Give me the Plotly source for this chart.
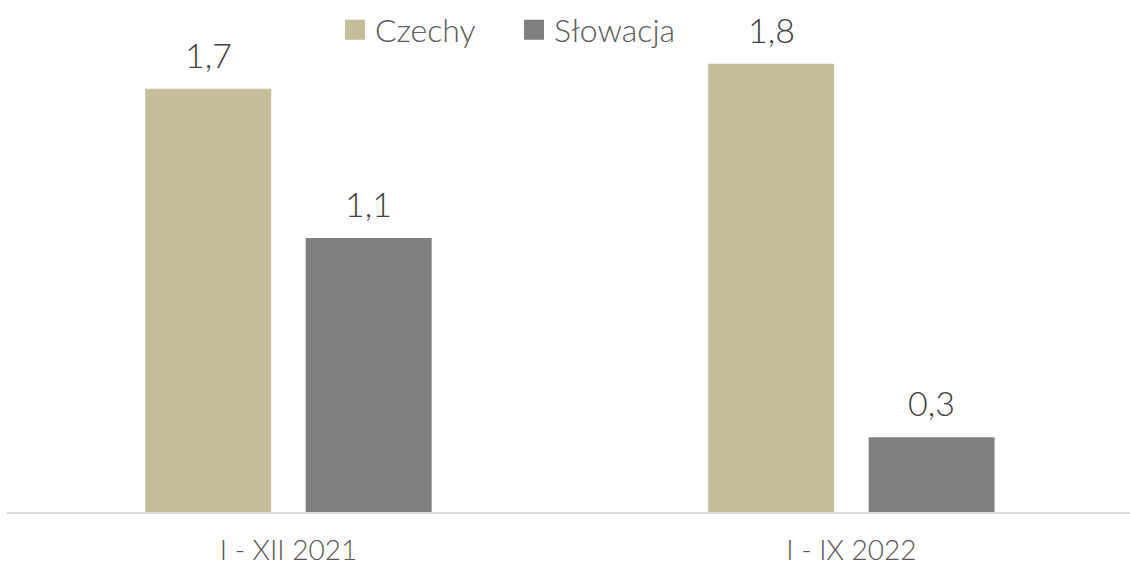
import plotly.graph_objects as go

categories = ["I - XII 2021", "I - IX 2022"]
czechy = [1.7, 1.8]
slowacja = [1.1, 0.3]
series_names = ["Czechy", "Słowacja"]
colors = ["#c5bd97", "#7f7f7f"]

FONT = "Lato"
WEIGHT = 300
BARGAP = 0.43


def fmt(v):
    return f"{v:.1f}".replace(".", ",")


fig = go.Figure()
n_series = len(series_names)
slot = (1 - BARGAP) / n_series
for k, (name, vals, col) in enumerate(zip(series_names, [czechy, slowacja], colors)):
    fig.add_trace(go.Bar(
        x=list(range(len(categories))), y=vals, name=name,
        marker=dict(color=col, line=dict(width=0)),
        showlegend=False,
    ))
    # legend swatch
    fig.add_trace(go.Scatter(
        x=[None], y=[None], mode="markers", name=name,
        marker=dict(symbol="square", size=16, color=col,
                    line=dict(color=col, width=4)),
        showlegend=True,
    ))
    # value labels above each bar
    offset = (k - (n_series - 1) / 2) * slot
    for i, v in enumerate(vals):
        fig.add_annotation(
            x=i + offset, y=v, text=fmt(v), showarrow=False,
            xanchor="center", yanchor="bottom", yshift=12,
            font=dict(family=FONT, size=34, color="#404040", weight=WEIGHT),
        )

fig.update_layout(
    width=1130, height=566,
    margin=dict(l=7, r=0, t=14, b=54, autoexpand=False),
    paper_bgcolor="white", plot_bgcolor="white",
    barmode="group", bargap=BARGAP, bargroupgap=0.215,
    font=dict(family=FONT, color="#595959"),
    legend=dict(
        orientation="h", x=0.4515, xanchor="center", y=0.968, yanchor="middle",
        font=dict(family=FONT, size=32, color="#595959", weight=WEIGHT),
        entrywidth=134, entrywidthmode="pixels",
        bgcolor="rgba(0,0,0,0)",
    ),
    xaxis=dict(
        range=[-0.5, 1.495], showgrid=False, zeroline=False, automargin=False,
        showline=True, linecolor="#d9d9d9", linewidth=2,
        tickmode="array", tickvals=list(range(len(categories))), ticktext=categories,
        ticks="", ticklabelstandoff=12,
        tickfont=dict(family=FONT, size=28, color="#595959", weight=WEIGHT),
    ),
    yaxis=dict(range=[0, 2.0], visible=False),
)

fig.write_html("out.html")
